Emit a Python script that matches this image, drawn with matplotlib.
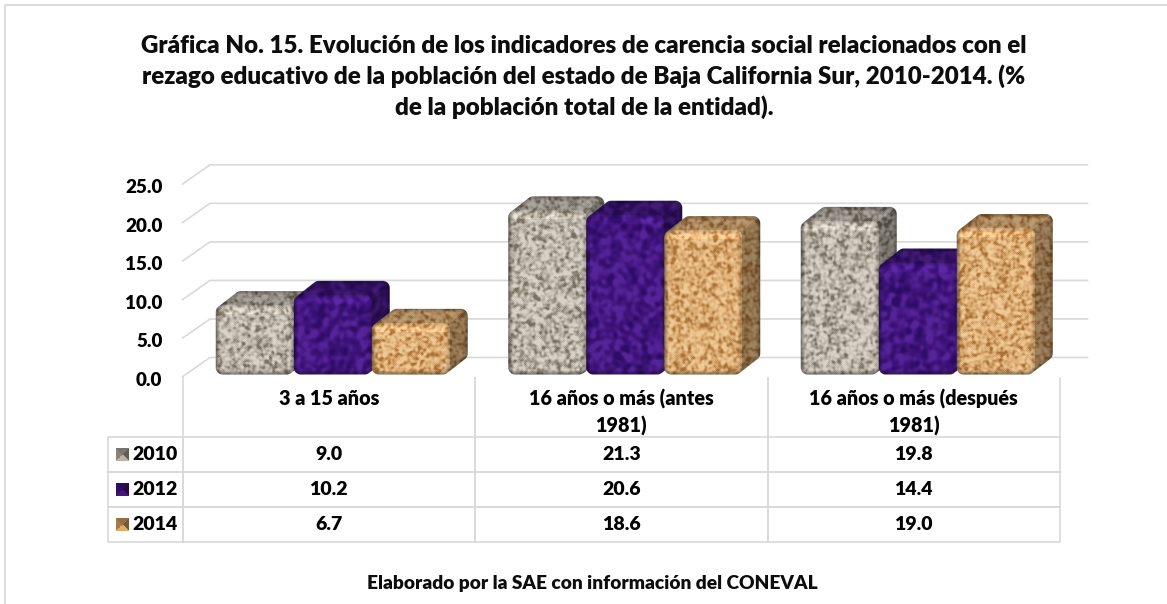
import matplotlib
matplotlib.use('Agg')
import matplotlib.pyplot as plt
from matplotlib.transforms import ScaledTranslation
import numpy as np

plt.rcParams['font.family'] = ['Lato', 'DejaVu Sans']
plt.rcParams['font.weight'] = 'heavy'

categories = ['3 a 15 años', '16 años o más (antes\n1981)', '16 años o más (después\n1981)']
years = ['2010', '2012', '2014']
v2010 = [9.0, 21.3, 19.8]
v2012 = [10.2, 20.6, 14.4]
v2014 = [6.7, 18.6, 19.0]
series = [v2010, v2012, v2014]
yticks = [0, 5, 10, 15, 20, 25]
title = ('Gráfica No. 15. Evolución de los indicadores de carencia social relacionados con el\n'
         'rezago educativo de la población del estado de Baja California Sur, 2010-2014. (%\n'
         'de la población total de la entidad).')
footer = 'Elaborado por la SAE con información del CONEVAL'

# texture colours: dark, mid, light
textures = [
    ['#7a7164', '#b5ada1', '#d8d2c8'],
    ['#2e0c66', '#41147c', '#552598'],
    ['#a87238', '#d8a76e', '#efc894'],
]
key_colors = ['#a39b90', '#3d1276', '#c4935c']
grid_col = '#d9d9d9'
W, H = 1167, 604
GX0, GX1, G0, G25 = 182.5, 1060.0, 376.7, 184.0   # plot area in pixels (y from top)
PX = (GX1 - GX0) / 3
PY = (G0 - G25) / 25
DX, DY, LIFT, R = 18, 14, 2.2, 7      # bar depth and corner radius, pixels
BAR_W = 78 / PX


def hash_noise(w, h, seed, blur):
    # plain sine hash, then box blur, gives the mottled picture fill
    yy, xx = np.mgrid[0:h, 0:w]
    n = np.sin(xx * 12.9898 + yy * 78.233 + seed) * 43758.5453
    n = n - np.floor(n)
    for _ in range(blur):
        n = (n + np.roll(n, 1, 0) + np.roll(n, -1, 0) + np.roll(n, 1, 1) + np.roll(n, -1, 1)) / 5
    n = (n - n.mean()) / n.std()
    return np.clip(0.58 + n * 0.3, 0, 1)


def sdf_poly(xx, yy, pts):
    dist = np.full(xx.shape, 1e9)
    pos = np.ones(xx.shape, bool)
    neg = np.ones(xx.shape, bool)
    for (ax_, ay_), (bx_, by_) in zip(pts, pts[1:] + pts[:1]):
        ex, ey = bx_ - ax_, by_ - ay_
        t = np.clip(((xx - ax_) * ex + (yy - ay_) * ey) / (ex * ex + ey * ey), 0, 1)
        dist = np.minimum(dist, np.hypot(xx - ax_ - t * ex, yy - ay_ - t * ey))
        cross = (xx - ax_) * ey - (yy - ay_) * ex
        pos &= cross >= 0
        neg &= cross <= 0
    return np.where(pos | neg, -dist, dist)


def render_bar(x0, x1, ytop, ybot, colors, seed, smooth):
    # returns RGBA picture of the rounded block and its pixel box
    bx0, bx1 = int(x0) - 2, int(x1 + DX) + 3
    by0, by1 = int(ytop - DY) - 2, int(ybot) + 3
    yy, xx = np.mgrid[by0:by1, bx0:bx1] + 0.5
    a, b, c, d = x0 + R, x1 - R, ytop + R, ybot - R
    hexa = [(a, d), (a, c), (a + DX, c - DY), (b + DX, c - DY), (b + DX, d - DY), (b, d)]
    sil = sdf_poly(xx, yy, hexa) - R
    front = sdf_poly(xx, yy, [(a, d), (a, c), (b, c), (b, d)]) - R
    alpha = np.clip(0.5 - sil, 0, 1)

    n = hash_noise(xx.shape[1], xx.shape[0], seed, smooth)
    stops = [0, 0.5, 1]
    rgb = np.stack([np.interp(n, stops, [matplotlib.colors.to_rgb(k)[ch] for k in colors])
                    for ch in range(3)], axis=-1)

    side = (xx - x1) * DY > (ytop - yy) * DX
    shade = np.where(front <= 0, 1.0, np.where(side, 0.66, 0.78))
    # bevel round the front face and the outline
    rim = np.clip(-front / 5, 0, 1)
    shade = np.where(front <= 0, shade * (0.8 + 0.2 * rim), shade)
    shade = shade * (0.72 + 0.28 * np.clip(-sil / 4, 0, 1))
    # light band under the top edge of the front
    band = (front <= 0) & (yy < ytop + 9)
    shade = np.where(band, shade * 1.1, shade)
    rgb = np.clip(rgb * shade[..., None], 0, 1)
    return np.dstack([rgb, alpha]), (bx0, bx1, by0, by1)


def pyramid_key(color, size=13):
    # small legend key with four shaded triangles
    yy, xx = np.mgrid[0:size, 0:size] + 0.5
    u, v = xx / size - 0.5, yy / size - 0.5
    base = np.array(matplotlib.colors.to_rgb(color))
    f = np.where(np.abs(u) > np.abs(v), np.where(u > 0, 0.6, 0.85), np.where(v > 0, 1.15, 0.75))
    return np.clip(base[None, None, :] * f[..., None], 0, 1)


fig = plt.figure(figsize=(W / 100, H / 100), dpi=100, facecolor='white')
ax = fig.add_axes([GX0 / W, 1 - G0 / H, (GX1 - GX0) / W, (G0 - G25) / H])
ax.patch.set_alpha(0)
for s in ax.spines.values():
    s.set_visible(False)

# gridlines sit on the back wall, with slanted bits on the left wall
gdx, gdy = 27.5 / PX, 19.2 / PY
for t in yticks:
    ax.plot([-0.5, -0.5 + gdx, 2.5 + gdx], [t, t + gdy, t + gdy], color=grid_col, lw=1.2,
            clip_on=False, zorder=1, solid_joinstyle='round')

ax.set_xlim(-0.5, 2.5)
ax.set_ylim(0, 25)
ax.set_yticks(yticks, [f'{t:.1f}' for t in yticks], fontsize=13.6, fontweight='heavy')
ax.tick_params(axis='y', length=0, pad=14.5)
ax.set_xticks(range(3), categories, fontsize=14.2, fontweight='heavy', linespacing=1.4)
ax.tick_params(axis='x', length=0, pad=9)

fig.canvas.draw()
# the labels sit a little under their gridline in the original
for lab in ax.get_yticklabels():
    lab.set_transform(lab.get_transform() + ScaledTranslation(0, -2 / 100, fig.dpi_scale_trans))

x = np.arange(3)
offsets = [-BAR_W, 0, BAR_W]
for i, (vals, colors) in enumerate(zip(series, textures)):
    bars = ax.bar(x + 0.0137 + offsets[i], vals, BAR_W, color='none', zorder=1)
    for j, rect in enumerate(bars):
        (x0, y0), (x1, y1) = ax.transData.transform(
            [(rect.get_x(), 0), (rect.get_x() + rect.get_width(), rect.get_height())])
        img, (bx0, bx1, by0, by1) = render_bar(x0, x1, H - y1 - LIFT, H - y0 - LIFT, colors,
                                               i * 3 + j, 10 if i == 1 else 3)
        inv = ax.transData.inverted()
        (e0, e2), (e1, e3) = inv.transform([(bx0, H - by1), (bx1, H - by0)])
        ax.imshow(img, extent=(e0, e1, e2, e3), origin='upper', aspect='auto', clip_on=False,
                  zorder=3 + i, interpolation='bilinear')
ax.set_xlim(-0.5, 2.5)
ax.set_ylim(0, 25)

# data table under the plot
cell_text = [[years[r]] + [f'{series[r][c]:.1f}' for c in range(3)] for r in range(3)]
tbl = ax.table(cellText=cell_text, colLabels=['', '', '', ''], cellLoc='center',
               colWidths=[74.5 / 952] + [292.5 / 952] * 3,
               bbox=[(108 - GX0) / (GX1 - GX0), -(542 - G0) / (G0 - G25), 952 / (GX1 - GX0),
                     (542 - G0) / (G0 - G25)])
tbl.auto_set_font_size(False)
tbl.set_fontsize(14.0)
for (r, c), cell in tbl.get_celld().items():
    cell.set_edgecolor(grid_col)
    cell.set_linewidth(1.2)
    cell.set_facecolor('none')
    cell.get_text().set_fontweight('heavy')
    cell.set_height(60.3 if r == 0 else 35)
    if r == 0:
        cell.visible_edges = '' if c == 0 else 'LR'
    elif c == 0:
        cell.get_text().set_ha('right')
        cell.PAD = 0.07

# page frame, title, footer and legend keys, in pixels
deco = fig.add_axes([0, 0, 1, 1], zorder=5)
deco.set_xlim(0, W)
deco.set_ylim(H, 0)
deco.axis('off')
deco.plot([5, 5, W], [H, 5, 5], color=grid_col, lw=1.3)
deco.text(584, 77, title, ha='center', va='center', fontsize=17.35, fontweight='heavy',
          linespacing=1.39, color='#0d0d0d')
deco.text(592.5, 583.5, footer, ha='center', va='center', fontsize=13.8, fontweight='heavy',
          color='#0d0d0d')
for r, col in enumerate(key_colors):
    cy = 454.5 + 35 * r
    deco.imshow(pyramid_key(col), extent=(116, 129, cy + 6.5, cy - 6.5), aspect='auto',
                interpolation='bilinear')
deco.set_xlim(0, W)
deco.set_ylim(H, 0)

fig.savefig('out.png', dpi=100)
